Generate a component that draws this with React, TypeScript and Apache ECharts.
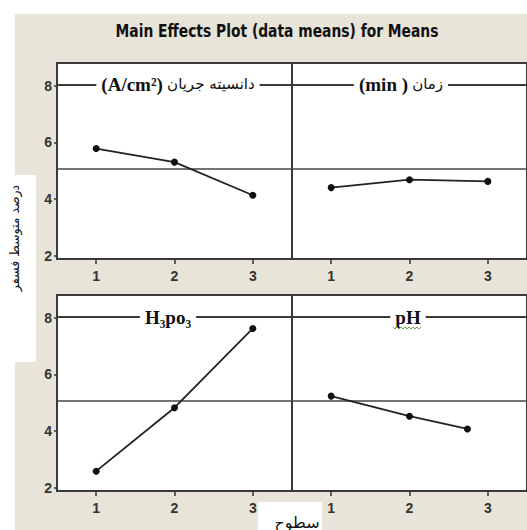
import React, { useEffect, useRef } from "react";
import * as echarts from "echarts";

const levels = [1, 2, 3];
const currentDensityMeans = [5.78, 5.3, 4.13];
const timeMeans = [4.4, 4.68, 4.62];
const h3po3Means = [2.58, 4.82, 7.62];
const phLevels = [1, 2, 2.74];
const phMeans = [5.23, 4.52, 4.07];
const grandMean = 5.05;
const yTickValues = [2, 4, 6, 8];
const xTickValues = [1, 2, 3];

const chartTitle = "Main Effects Plot (data means) for Means";
const yAxisTitle = "درصد متوسط فسفر";
const xAxisTitle = "سطوح";

const BEIGE = "#e9e4d8";
const FRAME = "#3a3a3a";
const INK = "#222";

export default function App() {
  const ref = useRef<HTMLDivElement>(null);

  useEffect(() => {
    if (!ref.current) return;
    const chart = echarts.init(ref.current, undefined, { renderer: "svg" });

    const panels = [
      { x: levels, y: currentDensityMeans },
      { x: levels, y: timeMeans },
      { x: levels, y: h3po3Means },
      { x: phLevels, y: phMeans },
    ];

    const grids = [
      { left: 57, top: 63, width: 235, height: 196 },
      { left: 292, top: 63, width: 236, height: 196 },
      { left: 57, top: 295, width: 235, height: 196 },
      { left: 292, top: 295, width: 236, height: 196 },
    ].map((g) => ({
      ...g,
      show: true,
      backgroundColor: "#ffffff",
      borderColor: FRAME,
      borderWidth: 2,
    }));

    const tickFont = {
      fontFamily: "'Liberation Sans', Arial, sans-serif",
      fontWeight: "bold" as const,
      fontSize: 14,
      color: "#333",
    };

    const xAxes = panels.map((_, i) => ({
      type: "value" as const,
      gridIndex: i,
      min: 0.5,
      max: 3.5,
      splitLine: { show: false },
      axisLine: { show: true, lineStyle: { color: FRAME, width: 2 } },
      axisTick: {
        show: true,
        length: 5,
        customValues: xTickValues,
        lineStyle: { color: "#333", width: 1.5 },
      },
      axisLabel: { ...tickFont, customValues: xTickValues, margin: 10 },
    }));

    const yAxes = panels.map((_, i) => {
      const isLeft = i % 2 === 0;
      return {
        type: "value" as const,
        gridIndex: i,
        min: 1.88,
        max: 8.8,
        splitLine: { show: false },
        axisLine: { show: true, lineStyle: { color: FRAME, width: 2 } },
        axisTick: {
          show: isLeft,
          length: 3,
          customValues: yTickValues,
          lineStyle: { color: "#333", width: 1.5 },
        },
        axisLabel: { ...tickFont, show: isLeft, customValues: yTickValues, margin: 5 },
      };
    });

    const series = panels.map((p, i) => ({
      type: "line" as const,
      xAxisIndex: i,
      yAxisIndex: i,
      data: p.x.map((x, j) => [x, p.y[j]]),
      symbol: "circle",
      symbolSize: 7,
      lineStyle: { color: INK, width: 1.8 },
      itemStyle: { color: "#111" },
      z: 5,
      markLine: {
        silent: true,
        symbol: ["none", "none"],
        label: { show: false },
        data: [
          { yAxis: grandMean, lineStyle: { color: "#444", width: 1.5, type: "solid" } },
          { yAxis: 8.03, lineStyle: { color: "#3a3a3a", width: 2, type: "solid" } },
        ],
      },
    }));

    const latin = {
      fontFamily: "'Liberation Serif', 'DejaVu Serif', serif",
      fontWeight: "bold" as const,
      fontSize: 19,
      fill: "#111",
    };
    const persian = {
      fontFamily: "'DejaVu Sans', sans-serif",
      fontSize: 15,
      fill: "#111",
    };

    const header = (x: number, y: number, text: string) => ({
      type: "text" as const,
      x,
      y,
      z: 100,
      style: {
        text,
        align: "center",
        verticalAlign: "middle",
        backgroundColor: "#ffffff",
        padding: [1, 5, 1, 5],
        rich: { a: latin, b: persian },
        fontSize: 15,
      },
    });

    const wavy: number[][] = [];
    for (let k = 0; k <= 14; k++) wavy.push([393 + k * 2, k % 2 === 0 ? 327 : 329]);

    chart.setOption({
      animation: false,
      backgroundColor: "#ffffff",
      grid: grids,
      xAxis: xAxes,
      yAxis: yAxes,
      series,
      graphic: [
        { type: "rect", z: -2, shape: { x: 15, y: 14, width: 512, height: 516 }, style: { fill: BEIGE } },
        { type: "rect", z: -1, shape: { x: 0, y: 175, width: 36, height: 187 }, style: { fill: "#ffffff" } },
        { type: "rect", z: -1, shape: { x: 258, y: 502, width: 64, height: 28 }, style: { fill: "#ffffff" } },
        {
          type: "text",
          x: 277,
          y: 31,
          z: 100,
          scaleX: 0.77,
          style: {
            text: chartTitle,
            align: "center",
            verticalAlign: "middle",
            fontFamily: "'DejaVu Sans', sans-serif",
            fontWeight: "bold",
            fontSize: 18,
            fill: "#111",
          },
        },
        {
          type: "text",
          x: 14,
          y: 238,
          rotation: Math.PI / 2,
          z: 100,
          style: {
            text: yAxisTitle,
            align: "center",
            verticalAlign: "middle",
            fontFamily: "'DejaVu Sans', sans-serif",
            fontSize: 12.5,
            fill: "#111",
          },
        },
        {
          type: "text",
          x: 297,
          y: 522,
          z: 100,
          style: {
            text: xAxisTitle,
            align: "center",
            verticalAlign: "middle",
            fontFamily: "'DejaVu Sans', sans-serif",
            fontSize: 16,
            fill: "#111",
          },
        },
        header(178, 84, "{a|(A/cm²)} {b|دانسیته جریان}"),
        header(401, 84, "{a|(min )} {b|زمان}"),
        header(168, 317, "{a|H₃po₃}"),
        header(408, 317, "{a|pH}"),
        {
          type: "polyline",
          z: 101,
          shape: { points: wavy },
          style: { stroke: "#6aa84f", lineWidth: 1, fill: "none" },
        },
      ],
    });

    return () => chart.dispose();
  }, []);

  return (
    <div
      ref={ref}
      style={{ position: "absolute", left: 0, top: 0, width: 527, height: 530 }}
    />
  );
}
